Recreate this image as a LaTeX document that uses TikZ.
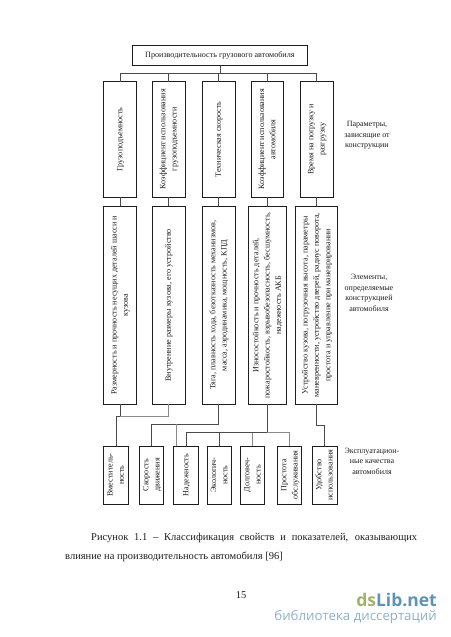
\documentclass[tikz,border=0pt]{standalone}
\usepackage{fontspec}
\usepackage{graphicx}
\usetikzlibrary{calc}
\setmainfont{Liberation Serif}
\newfontfamily\wmfont{Open Sans}
\newcommand{\rt}[1]{\rotatebox{90}{\begin{tabular}{@{}c@{}}#1\end{tabular}}}
\definecolor{ink}{HTML}{1E1E1E}
\definecolor{wire}{HTML}{4A4A4A}
\definecolor{wirelight}{HTML}{8A8A8A}
\definecolor{wmgreen}{HTML}{A3B26A}
\definecolor{wmblue}{HTML}{5E93B5}
\definecolor{wmpale}{HTML}{8DB0C9}
\tikzset{
  boxn/.style={draw=ink,line width=0.95pt,fill=white,inner sep=0pt,outer sep=0pt,text=ink,
    font=\fontsize{8.1}{11.3}\selectfont},
  rowone/.style={boxn,minimum height=115.3pt},
  rowtwo/.style={boxn,minimum height=198pt},
  rowthree/.style={boxn,minimum height=58pt,minimum width=24.6pt},
  conn/.style={draw=wire,line width=0.7pt},
  connlight/.style={draw=wirelight,line width=0.9pt},
  sidelabel/.style={align=center,text=ink,inner sep=0pt,font=\fontsize{8}{10.6}\selectfont},
  caption/.style={text=ink,inner sep=0pt,font=\fontsize{10.5}{18.6}\selectfont},
}
\begin{document}
\begin{tikzpicture}[x=1pt,y=-1pt]
\useasboundingbox (0,0) rectangle (450,637);
% buses
\coordinate (busTop) at (0,73.3);
\coordinate (busA) at (0,416.7);
\coordinate (busB) at (0,424.3);
\coordinate (busC) at (0,432.7);
\coordinate (busD) at (0,425.7);
% top
\node[boxn,minimum width=174.5pt,minimum height=19.7pt] (top) at (219.9,55.8) {Производительность грузового автомобиля};
% row 1
\node[rowone,minimum width=32.6pt] (a1) at (120,139.35) {\rt{Грузоподъемность}};
\node[rowone,minimum width=32.6pt] (a2) at (168.7,139.35) {\rt{Коэффициент использования\\грузоподъемности}};
\node[rowone,minimum width=32.6pt] (a3) at (218.7,139.35) {\rt{Техническая скорость}};
\node[rowone,minimum width=32.4pt] (a4) at (267.5,139.35) {\rt{Коэффициент использования\\автомобиля}};
\node[rowone,minimum width=32.7pt] (a5) at (316.7,139.35) {\rt{Время на погрузку и\\разгрузку}};
% row 2
\node[rowtwo,minimum width=32.6pt] (b1) at (120,305.3) {\rt{Размерность и прочность несущих деталей шасси и\\кузова}};
\node[rowtwo,minimum width=32.6pt] (b2) at (168.7,305.3) {\rt{Внутренние размеры кузова, его устройство}};
\node[rowtwo,minimum width=32.6pt] (b3) at (218.7,305.3) {\rt{Тяга, плавность хода, безотказность механизмов,\\масса, аэродинамика, мощность, КПД}};
\node[rowtwo,minimum width=37.3pt] (b4) at (267.4,305.3) {\rt{Износостойкость и прочность деталей,\\пожаростойкость, взрывобезопасность, бесшумность,\\надежность АКБ}};
\node[rowtwo,minimum width=42pt] (b5) at (316.7,305.3) {\rt{Устройство кузова, погрузочная высота, параметры\\маневренности, устройство дверей, радиус поворота,\\простота и управление при маневрировании}};
% row 3
\node[rowthree] (c1) at (116,475) {\rt{Вместитель-\\ность}};
\node[rowthree] (c2) at (151.65,475) {\rt{Скорость\\движения}};
\node[rowthree] (c3) at (186.15,475) {\rt{Надежность}};
\node[rowthree] (c4) at (219.5,475) {\rt{Экологич-\\ность}};
\node[rowthree] (c5) at (252.65,475) {\rt{Долговеч-\\ность}};
\node[rowthree] (c6) at (289.65,475) {\rt{Простота\\обслуживания}};
\node[rowthree] (c7) at (324.8,475) {\rt{Удобство\\использования}};
% top connectors
\draw[conn] (top.south) -- (top.south |- busTop);
\draw[conn] (a1.north) |- (top.south |- busTop);
\draw[conn] (a5.north) |- (top.south |- busTop);
\draw[conn] (a2.north) -- (a2.north |- busTop);
\draw[conn] (a3.north) -- (a3.north |- busTop);
\draw[conn] (a4.north) -- (a4.north |- busTop);
% row 1 to row 2
\foreach \n in {1,...,5} {\draw[conn] (a\n.south) -- (b\n.north);}
% row 2 to row 3
\draw[conn] (b1.south) -- (b1.south |- busA);
\draw[connlight] (b2.south) |- (b1.south |- busA);
\draw[conn] (b1.south |- busA) -- (c1.north |- busA) -- (c1.north);
\draw[conn] (b3.south) |- (c2.north |- busB) -- (c2.north);
\coordinate (c3drop) at ($(c3.north)+(-9.5,0)$);
\draw[connlight] (c3drop |- busB) -- (c3drop);
\draw[conn] (b4.south) -- (b4.south |- busC);
\draw[conn] (c3.north) |- (b4.south |- busC);
\draw[connlight] (c6.north) |- (b4.south |- busC);
\draw[conn] (c4.north) -- (c4.north |- busC);
\draw[connlight] (c5.north) -- (c5.north |- busC);
\draw[conn] (b5.south) |- (c7.north |- busD) -- (c7.north);
% side labels
\node[sidelabel] (s1) at (367,135.5) {Параметры,\\зависящие от\\конструкции};
\node[sidelabel] (s2) at (369,293) {Элементы,\\определяемые\\конструкцией\\автомобиля};
\node[sidelabel] (s3) at (372,461) {Эксплуатацион-\\ные качества\\автомобиля};
% caption
\node[caption,anchor=north west,text width=352pt,align=justify] (cap) at (65,533.5) {\hspace*{26pt}Рисунок 1.1 – Классификация свойств и показателей, оказывающих влияние на производительность автомобиля [96]};
\node[caption,anchor=center] (pg) at (241,595.5) {15};
% watermark
\node[anchor=east,inner sep=0pt,font=\wmfont\bfseries\fontsize{17.5}{20}\selectfont] (wm1) at (437,600) {\textcolor{wmgreen}{ds}\textcolor{wmblue}{Lib.net}};
\node[anchor=east,inner sep=0pt,text=wmpale,font=\wmfont\fontsize{13.3}{15}\selectfont] (wm2) at (437,617) {библиотека диссертаций};
\end{tikzpicture}
\end{document}
